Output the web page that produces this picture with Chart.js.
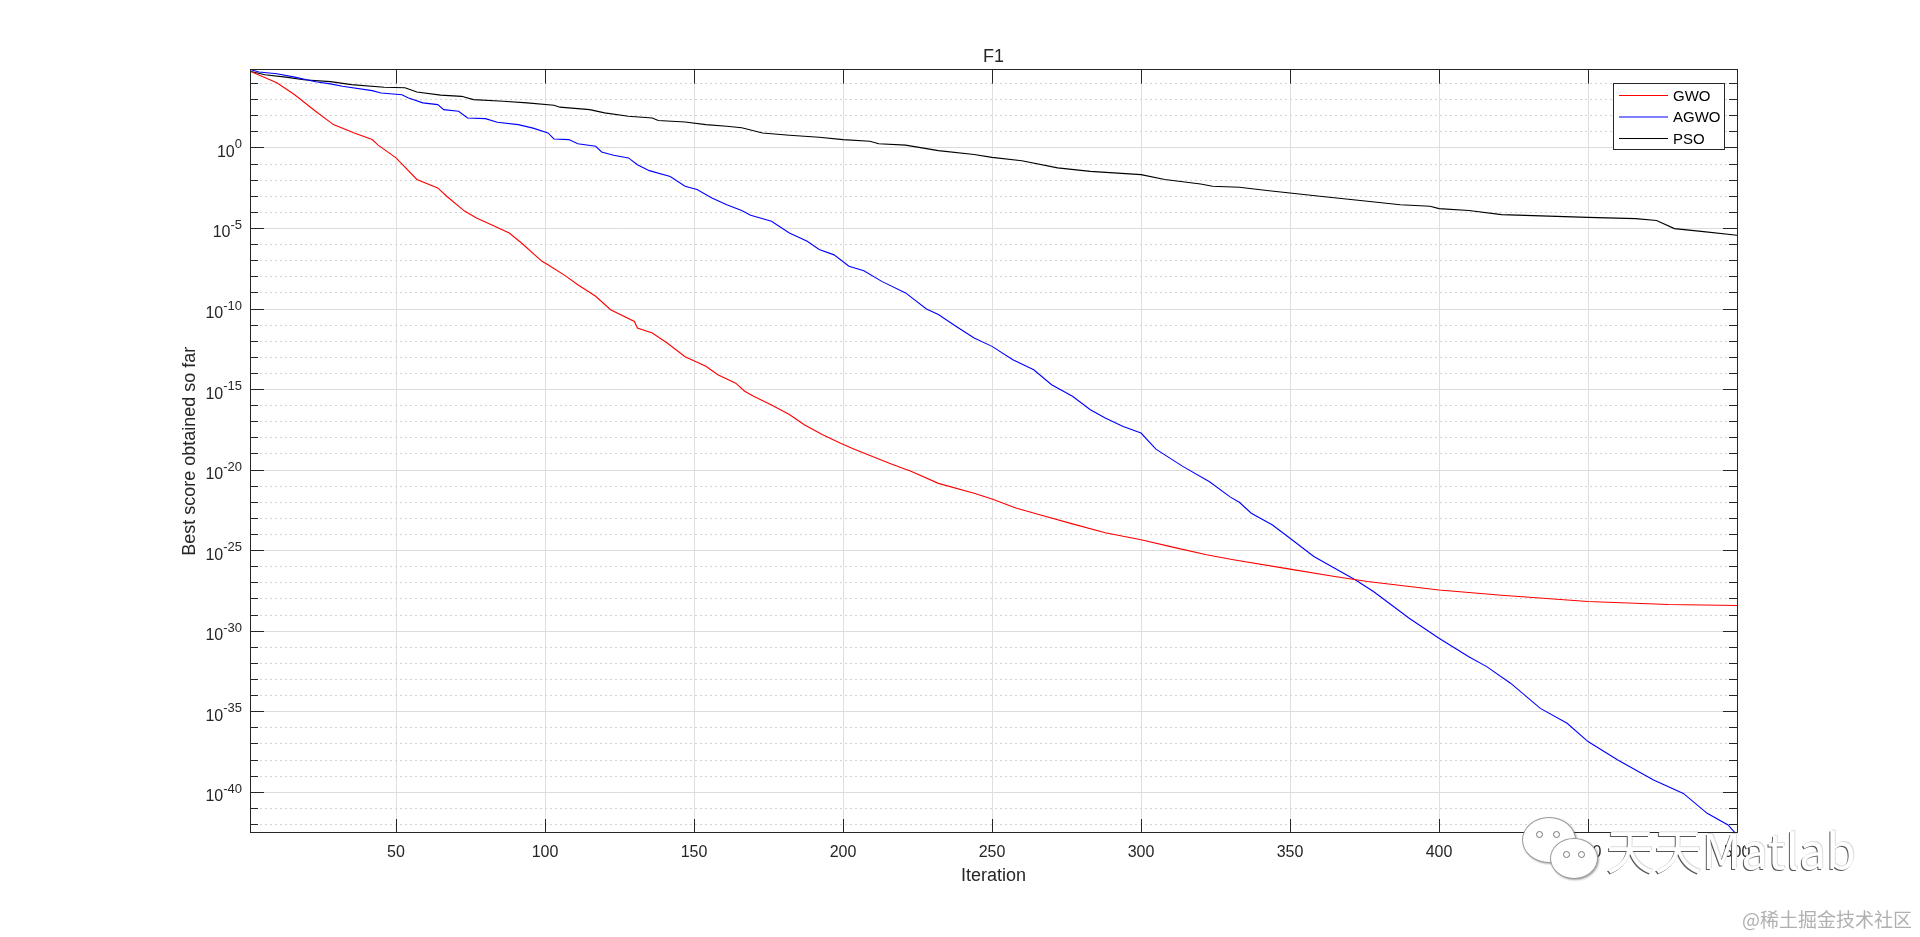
<!DOCTYPE html>
<html>
<head>
<meta charset="utf-8">
<title>F1</title>
<script src="https://cdn.jsdelivr.net/npm/chart.js@4.4.0/dist/chart.umd.min.js"></script>
<style>
  html, body { margin: 0; padding: 0; background: #fff; overflow: hidden; }
  #wrap { position: relative; width: 1920px; height: 937px; }
  .bubble { position: absolute; background: #fff; border: 1.5px solid #9a9a9a; border-radius: 50%;
            box-shadow: 1px 1px 2px rgba(0,0,0,0.35); }
  .bubble .eye { position: absolute; width: 5px; height: 5px; border: 1.5px solid #777; border-radius: 50%; background: #fff; }
  .wm-text { position: absolute; left: 1606px; top: 824px; font: 48px 'Noto Sans CJK SC', sans-serif; line-height: 1;
             color: #fff; text-shadow: -1px 1px 0 #555, 1px -1px 0 #ddd; white-space: nowrap; }
  .wm-site { position: absolute; right: 8px; top: 909px; font: 19px 'Noto Sans CJK SC', sans-serif; line-height: 1;
             color: #b0b0b0; white-space: nowrap; }
</style>
</head>
<body>
<div id="wrap">
  <canvas id="convChart"></canvas>
  <div class="bubble" style="left:1522px;top:817px;width:52px;height:44px;">
    <div class="eye" style="left:13px;top:13px;"></div><div class="eye" style="left:30px;top:13px;"></div>
  </div>
  <div class="bubble" style="left:1550px;top:838px;width:46px;height:39px;">
    <div class="eye" style="left:12px;top:12px;"></div><div class="eye" style="left:27px;top:12px;"></div>
  </div>
  <div class="wm-text">天天Matlab</div>
  <div class="wm-site">@稀土掘金技术社区</div>
</div>
<script>
// ===== DATA (best score so far) =====
const gwoIter = [1, 10, 16, 23, 29, 36, 42, 44, 50, 57,
    64, 67, 73, 77, 82, 88, 92, 99, 101, 107,
    111, 117, 122, 130, 131, 136, 141, 147, 154, 158,
    164, 167, 170, 176, 182, 187, 193, 199, 204, 216,
    223, 232, 244, 250, 258, 266, 277, 288, 300, 311,
    322, 331, 350, 365, 376, 400, 421, 450, 477, 500];
const gwoScore = [5.8e4, 1.1e4, 2.0e3, 1.9e2, 28, 8.5, 3.3, 1.5, 2.4e-1, 1.1e-2,
    3.3e-3, 1.0e-3, 1.2e-4, 4.5e-5, 1.7e-5, 5.2e-6, 1.3e-6, 9.1e-8, 5.6e-8, 1.1e-8,
    3.2e-9, 6.2e-10, 9.1e-11, 1.7e-11, 6.6e-12, 3.2e-12, 7.8e-13, 1.1e-13, 2.8e-14, 8.3e-15,
    2.5e-15, 7.9e-16, 3.8e-16, 1.1e-16, 2.8e-17, 6.6e-18, 1.6e-18, 4.8e-19, 1.9e-19, 2.5e-20,
    8.1e-21, 1.5e-21, 3.7e-22, 1.6e-22, 4.4e-23, 1.7e-23, 4.6e-24, 1.3e-24, 4.7e-25, 1.6e-25,
    5.5e-26, 2.7e-26, 7.1e-27, 2.5e-27, 1.2e-27, 3.6e-28, 1.7e-28, 6.9e-29, 4.5e-29, 3.9e-29];

const agwoIter = [1, 4, 10, 16, 23, 28, 32, 42, 45, 52,
    54, 59, 64, 66, 71, 74, 80, 84, 91, 96,
    101, 103, 108, 111, 117, 119, 123, 128, 131, 135,
    142, 147, 151, 156, 161, 166, 169, 176, 182, 188,
    192, 197, 202, 207, 213, 221, 228, 232, 238, 244,
    250, 257, 264, 270, 277, 283, 288, 294, 300, 305,
    314, 323, 330, 333, 337, 344, 350, 358, 365, 372,
    378, 390, 400, 410, 416, 424, 434, 443, 450, 460,
    472, 482, 490, 497, 500];
const agwoScore = [7.4e4, 5.2e4, 4.0e4, 2.5e4, 1.3e4, 9.5e3, 6.8e3, 3.6e3, 2.6e3, 2.0e3,
    1.3e3, 6.3e2, 4.9e2, 2.4e2, 1.9e2, 72, 66, 39, 28, 17,
    8.5, 3.6, 3.3, 1.8, 1.26, 0.56, 0.35, 0.24, 9.1e-2, 3.9e-2,
    1.7e-2, 4.2e-3, 2.6e-3, 7.9e-4, 3.0e-4, 1.3e-4, 6.6e-5, 2.8e-5, 5.2e-6, 1.6e-6,
    4.9e-7, 2.3e-7, 4.5e-8, 2.4e-8, 5.2e-9, 1.0e-9, 1.0e-10, 4.5e-11, 8.3e-12, 1.6e-12,
    4.8e-13, 7.1e-14, 1.7e-14, 2.0e-15, 3.8e-16, 5.6e-17, 1.7e-17, 5.1e-18, 2.0e-18, 2.0e-19,
    1.7e-20, 1.9e-21, 2.1e-22, 1.0e-22, 2.1e-23, 4.0e-24, 5.9e-25, 4.3e-26, 8.1e-27, 1.5e-27,
    2.9e-28, 6.3e-30, 3.6e-31, 2.6e-32, 6.3e-33, 5.9e-34, 1.6e-35, 1.9e-36, 1.4e-37, 1.0e-38,
    5.8e-40, 8.5e-41, 4.9e-42, 9.3e-43, 2.2e-43];

const psoIter = [1, 6, 13, 19, 28, 35, 46, 53, 57, 65,
    72, 76, 86, 94, 103, 105, 115, 120, 128, 136,
    138, 147, 154, 161, 166, 173, 182, 192, 200, 209,
    212, 221, 228, 232, 244, 250, 260, 272, 283, 300,
    308, 320, 324, 333, 343, 350, 360, 376, 387, 397,
    400, 410, 421, 450, 466, 473, 479, 488, 500];
const psoScore = [5.8e4, 3.5e4, 2.5e4, 1.7e4, 1.3e4, 8.5e3, 5.9e3, 5.4e3, 3.0e3, 1.9e3,
    1.6e3, 1.0e3, 7.9e2, 6.3e2, 4.5e2, 3.4e2, 2.4e2, 1.5e2, 93, 72,
    50, 41, 28, 22, 18, 8.5, 6.2, 4.6, 3.3, 2.6,
    1.8, 1.5, 0.91, 0.68, 0.39, 0.26, 0.16, 5.8e-2, 3.5e-2, 2.2e-2,
    1.1e-2, 5.8e-3, 4.2e-3, 3.6e-3, 2.2e-3, 1.6e-3, 1.0e-3, 4.9e-4, 3.0e-4, 2.4e-4,
    1.7e-4, 1.3e-4, 7.2e-5, 4.9e-5, 4.1e-5, 3.1e-5, 9.8e-6, 6.6e-6, 3.8e-6];

// axis ticks
const xTickValues = [50, 100, 150, 200, 250, 300, 350, 400, 450, 500];
const yMajorExp = [0, -5, -10, -15, -20, -25, -30, -35, -40];   // labelled decades
const yMinorRange = [-42, 4];                                   // every decade gets a dotted line
const yMin = 2.95e-43, yMax = 7.3e4;

// ===== STYLE =====
const FONT = "'Liberation Sans', Arial, sans-serif";
const AXIS_COLOR = "#262626";

function toPoints(xs, ys) {
    return xs.map((x, i) => ({ x: x, y: ys[i] }));
}

// same rounding as Chart.js uses for 1px lines
function crisp(p) {
    return Math.round(p - 0.5) + 0.5;
}

// box round the axes plus MATLAB style inward ticks on all four sides
const axesBox = {
    id: "axesBox",
    afterDatasetsDraw(chart) {
        const { ctx, chartArea: a, scales: { x, y } } = chart;
        ctx.save();
        ctx.strokeStyle = AXIS_COLOR;
        ctx.lineWidth = 1;
        ctx.beginPath();
        x.ticks.forEach(t => {
            const px = crisp(x.getPixelForValue(t.value));
            ctx.moveTo(px, a.bottom); ctx.lineTo(px, a.bottom - 14);
            ctx.moveTo(px, a.top); ctx.lineTo(px, a.top + 14);
        });
        y.ticks.forEach(t => {
            const py = crisp(y.getPixelForValue(t.value));
            const len = t.isMajor ? 14 : 8;
            ctx.moveTo(a.left, py); ctx.lineTo(a.left + len, py);
            ctx.moveTo(a.right, py); ctx.lineTo(a.right - len, py);
        });
        ctx.stroke();
        ctx.strokeRect(crisp(a.left), crisp(a.top), Math.round(a.right - a.left), Math.round(a.bottom - a.top));
        ctx.restore();
    }
};

// 10^n labels with a raised exponent
const yLabels = {
    id: "yLabels",
    afterDraw(chart) {
        const { ctx, chartArea: a, scales: { y } } = chart;
        ctx.save();
        ctx.fillStyle = AXIS_COLOR;
        ctx.textAlign = "left";
        ctx.textBaseline = "alphabetic";
        yMajorExp.forEach(e => {
            const py = y.getPixelForValue(Math.pow(10, e));
            const expText = String(e);
            ctx.font = "13px " + FONT;
            const we = ctx.measureText(expText).width;
            ctx.font = "16px " + FONT;
            const wb = ctx.measureText("10").width;
            const xr = a.left - 8;
            ctx.fillText("10", xr - we - wb, py + 9);
            ctx.font = "13px " + FONT;
            ctx.fillText(expText, xr - we, py + 0.5);
        });
        ctx.restore();
    }
};

// framed legend in the upper right corner of the axes
const legendBox = {
    id: "legendBox",
    afterDatasetsDraw(chart) {
        const { ctx, chartArea: a } = chart;
        const bx = Math.round(a.right - 124), by = Math.round(a.top + 13), bw = 111, bh = 66;
        ctx.save();
        ctx.fillStyle = "#fff";
        ctx.fillRect(bx, by, bw, bh);
        ctx.strokeStyle = AXIS_COLOR;
        ctx.lineWidth = 1;
        ctx.strokeRect(bx + 0.5, by + 0.5, bw, bh);
        ctx.font = "15px " + FONT;
        ctx.textBaseline = "middle";
        chart.data.datasets.forEach((ds, i) => {
            const ry = by + 12.5 + i * 21.5;
            ctx.strokeStyle = ds.borderColor;
            ctx.lineWidth = 1.2;
            ctx.beginPath();
            ctx.moveTo(bx + 6, ry); ctx.lineTo(bx + 55, ry);
            ctx.stroke();
            ctx.fillStyle = "#000";
            ctx.fillText(ds.label, bx + 60, ry + 1);
        });
        ctx.restore();
    }
};

const ctx = document.getElementById("convChart").getContext("2d");
const convChart = new Chart(ctx, {
    type: "line",
    data: {
        datasets: [
            { label: "GWO", data: toPoints(gwoIter, gwoScore), borderColor: "#ff0000", borderWidth: 1.1, pointRadius: 0, tension: 0 },
            { label: "AGWO", data: toPoints(agwoIter, agwoScore), borderColor: "#0000ff", borderWidth: 1.1, pointRadius: 0, tension: 0 },
            { label: "PSO", data: toPoints(psoIter, psoScore), borderColor: "#000000", borderWidth: 1.1, pointRadius: 0, tension: 0 }
        ]
    },
    options: {
        responsive: true,
        maintainAspectRatio: false,
        animation: false,
        events: [],
        layout: { padding: { left: 179, right: 183, top: 46, bottom: 50 } },
        scales: {
            x: {
                type: "linear",
                min: 1,
                max: 500,
                afterBuildTicks: s => { s.ticks = xTickValues.map(v => ({ value: v })); },
                afterFit: s => { s.height = 54; },
                grid: { color: "#dfdfdf", drawTicks: false },
                border: { display: false },
                ticks: { color: AXIS_COLOR, font: { family: FONT, size: 16 }, padding: 10, maxRotation: 0, autoSkip: false },
                title: { display: true, text: "Iteration", color: AXIS_COLOR, font: { family: FONT, size: 18 }, padding: 0 }
            },
            y: {
                type: "logarithmic",
                min: yMin,
                max: yMax,
                afterBuildTicks: s => {
                    const t = [];
                    for (let e = yMinorRange[0]; e <= yMinorRange[1]; e++) {
                        t.push({ value: Math.pow(10, e), isMajor: yMajorExp.includes(e) });
                    }
                    s.ticks = t;
                },
                afterFit: s => { s.width = 71; },
                grid: {
                    color: c => (c.tick && c.tick.isMajor) ? "#dcdcdc" : "#d4d4d4",
                    drawTicks: false
                },
                border: {
                    display: false,
                    dash: c => (c.tick && !c.tick.isMajor) ? [2, 3] : []
                },
                ticks: { display: false },
                title: { display: true, text: "Best score obtained so far", color: AXIS_COLOR, font: { family: FONT, size: 18 }, padding: 0 }
            }
        },
        plugins: {
            legend: { display: false },
            tooltip: { enabled: false },
            title: {
                display: true,
                text: "F1",
                fullSize: false,
                color: AXIS_COLOR,
                font: { family: FONT, size: 18, weight: "normal" },
                padding: { top: 0, bottom: 2 }
            }
        }
    },
    plugins: [axesBox, legendBox, yLabels]
});
</script>
</body>
</html>
